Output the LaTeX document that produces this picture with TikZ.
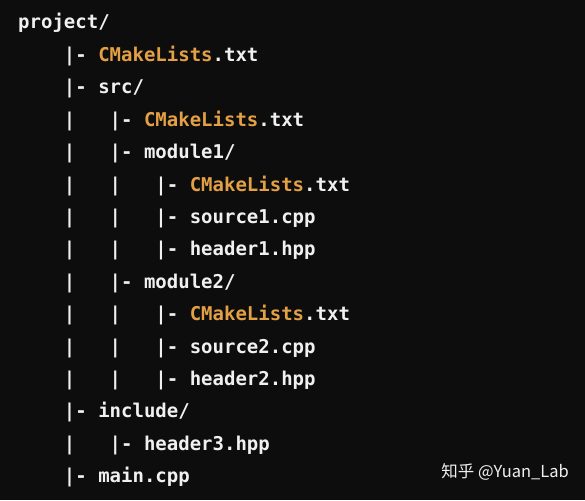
\documentclass[tikz,border=0pt]{standalone}
\usepackage{fontspec}
\setmonofont{DejaVu Sans Mono}
\newfontfamily\cjk{Noto Sans CJK SC}
\usetikzlibrary{backgrounds}
\definecolor{codebg}{HTML}{0D0D0D}
\definecolor{codefg}{HTML}{F0F0F0}
\definecolor{cmake}{HTML}{E3A044}
\def\cmk{|- \textcolor{cmake}{CMakeLists}.txt}
\def\frame{(-18pt, 29pt) rectangle (567pt, -471pt)}

\begin{document}
\begin{tikzpicture}[x=11.44pt, y=-32.4pt,
	entry/.style={anchor=base west, inner sep=0pt, text=codefg,
		font=\ttfamily\bfseries\fontsize{19}{19}\selectfont}]
	\fill[codebg] \frame;

	% the tree, one row per line, columns in characters
	\node[entry] (root) at (0,0) {project/};
	\node[entry] (topcmake) at (4,1) {\cmk};
	\node[entry] (src) at (4,2) {|- src/};
	\node[entry] (srccmake) at (8,3) {\cmk};
	\node[entry] (modone) at (8,4) {|- module1/};
	\node[entry] (modonecmake) at (12,5) {\cmk};
	\node[entry] (srcone) at (12,6) {|- source1.cpp};
	\node[entry] (hdrone) at (12,7) {|- header1.hpp};
	\node[entry] (modtwo) at (8,8) {|- module2/};
	\node[entry] (modtwocmake) at (12,9) {\cmk};
	\node[entry] (srctwo) at (12,10) {|- source2.cpp};
	\node[entry] (hdrtwo) at (12,11) {|- header2.hpp};
	\node[entry] (inc) at (4,12) {|- include/};
	\node[entry] (hdrthree) at (8,13) {|- header3.hpp};
	\node[entry] (main) at (4,14) {|- main.cpp};

	% continuation bars
	\foreach \r in {3,...,11,13}
		\node[entry] (barA\r) at (4,\r) {|};
	\foreach \r in {5,6,7,9,10,11}
		\node[entry] (barB\r) at (8,\r) {|};

	% watermark
	\node[anchor=base east, inner sep=0pt, text=codefg,
		font=\cjk\fontsize{16.5}{16.5}\selectfont] (mark) at (551pt, -448pt) {知乎 @Yuan\_Lab};
\end{tikzpicture}
\end{document}
